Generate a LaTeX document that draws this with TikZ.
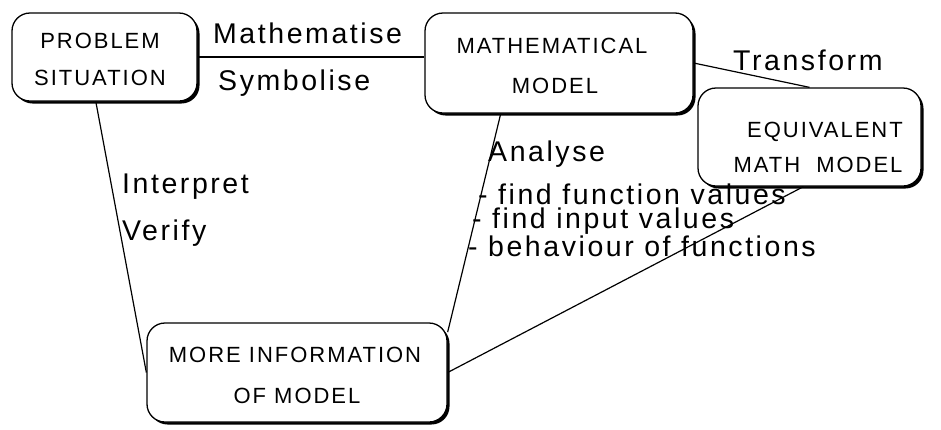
\documentclass[tikz,border=0pt]{standalone}
\usepackage{fontspec}
\setmainfont{Liberation Sans}
\newfontfamily\lblfont[LetterSpace=9]{Liberation Sans}
\newfontfamily\boxfont[LetterSpace=9]{Liberation Sans}
\usetikzlibrary{shadows}
\begin{document}
\begin{tikzpicture}[x=1pt,y=-1pt,
  box/.style={draw, line width=1.3pt, rounded corners=18pt, fill=white, inner sep=0pt,
    drop shadow={shadow xshift=2.5pt, shadow yshift=-2.5pt, fill=black, opacity=1}},
  boxtext/.style={font=\boxfont\fontsize{22}{24}\selectfont, inner sep=0pt, anchor=base},
  lbl/.style={font=\lblfont\fontsize{28.5}{32}\selectfont, inner sep=0pt, anchor=base west},
  link/.style={line width=1.2pt}]
\useasboundingbox (0,0) rectangle (941,429);

% boxes
\node[box, minimum width=185pt, minimum height=88pt] (b1) at (104.5,57) {};
\node[box, minimum width=268pt, minimum height=100pt] (b2) at (559,63) {};
\node[box, minimum width=223pt, minimum height=98pt] (b3) at (809.5,137) {};
\node[box, minimum width=300pt, minimum height=99pt] (b4) at (297,372.5) {};

% box texts
\node[boxtext] (t1a) at (100,48) {PROBLEM};
\node[boxtext] (t1b) at (100,85) {SITUATION};
\node[boxtext] (t2a) at (552,53) {MATHEMATICAL};
\node[boxtext] (t2b) at (555,93) {MODEL};
\node[boxtext] (t3a) at (825,137) {EQUIVALENT};
\node[boxtext] (t3b) at (818,172) {MATH\hspace{16pt}MODEL};
\node[boxtext] (t4a) at (295,362) {MORE INFORMATION};
\node[boxtext] (t4b) at (297,403) {OF MODEL};

% connectors
\draw[link] (b1.east) -- (b1.east -| b2.west);
\draw[link] (b2.east) -- (b3.north);
\draw[link] (b1.-101) -- (b4.west);
\draw[link] (b2.-139) -- (b4.15);
\draw[link] (b3.-97) -- (b4.east);

% labels
\node[lbl] (mathematise) at (213,43) {Mathematise};
\node[lbl] (symbolise) at (218,90) {Symbolise};
\node[lbl] (transform) at (733,70) {Transform};
\node[lbl, align=left, font=\lblfont\fontsize{28.5}{23.5}\selectfont] (analyse) at (468,256)
  {\hspace*{20pt}Analyse\\[16pt] \hspace*{10pt}- find function values\\ \hspace*{4pt}- find input values\\ - behaviour of functions};
\node[lbl] (interpret) at (122,193) {Interpret};
\node[lbl] (verify) at (122,240) {Verify};
\end{tikzpicture}
\end{document}
